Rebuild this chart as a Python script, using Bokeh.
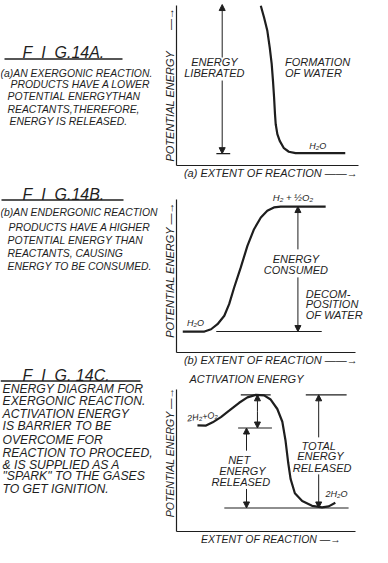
from bokeh.plotting import figure
from bokeh.layouts import row, column
from bokeh.models import Range1d, Arrow, NormalHead, FixedTicker
from bokeh.core.properties import value
from bokeh.embed import file_html
from bokeh.resources import INLINE

INK = "#1e1e1e"
FONT = "Liberation Sans"

# ---------------- data (extent of reaction 0..10, potential energy 0..10) ----------------
# Fig 14A: exergonic, formation of water
a_extent = [4.63, 4.81, 4.99, 5.12, 5.23, 5.30, 5.36, 5.41, 5.45, 5.54, 5.67, 5.90, 6.17, 6.54, 9.27]
a_energy = [9.98, 9.25, 8.42, 7.38, 6.33, 5.29, 4.25, 3.21, 2.58, 1.96, 1.54, 1.08, 0.86, 0.77, 0.77]
a_product_level = 0.74
a_top_level = 10.06
a_arrow_x = 2.51

# Fig 14B: endergonic, decomposition of water
b_extent = [0.35, 1.56, 1.93, 2.29, 2.67, 2.94, 3.22, 3.59, 3.96, 4.33, 4.71, 5.07, 5.44, 5.82, 8.33]
b_energy = [1.37, 1.37, 1.52, 1.85, 2.40, 3.16, 4.25, 5.56, 6.97, 8.06, 8.82, 9.26, 9.48, 9.54, 9.54]
b_low_level = 1.37
b_high_level = 9.54
b_arrow_x = 6.78

# Fig 14C: exergonic with activation barrier
c_extent = [1.17, 1.65, 2.02, 2.48, 2.94, 3.50, 3.96, 4.43, 4.89, 5.26, 5.63, 5.91, 6.09, 6.24,
            6.37, 6.61, 7.02, 7.57, 8.13, 8.50, 8.87]
c_energy = [7.48, 7.47, 7.70, 8.07, 8.52, 9.08, 9.46, 9.64, 9.60, 9.31, 8.64, 7.74, 6.40, 4.83,
            3.71, 2.70, 2.15, 1.81, 1.70, 1.77, 2.03]
c_reactant_level = 7.3
c_peak_level = 9.64
c_product_level = 1.66

# captions
fig_titles = ["F\u00a0\u00a0I\u00a0\u00a0G.14A.", "F\u00a0\u00a0I\u00a0\u00a0G.14B.", "F\u00a0\u00a0I\u00a0\u00a0G.\u00a014C."]
cap_a_lines = ["(a)AN EXERGONIC REACTION.", "PRODUCTS HAVE A LOWER", "POTENTIAL ENERGYTHAN",
               "REACTANTS,THEREFORE,", "ENERGY IS RELEASED."]
cap_b_lines = ["(b)AN ENDERGONIC REACTION", "PRODUCTS HAVE A HIGHER", "POTENTIAL ENERGY THAN",
               "REACTANTS, CAUSING", "ENERGY TO BE CONSUMED."]
cap_c_lines = ["ENERGY DIAGRAM FOR", "EXERGONIC REACTION.", "ACTIVATION ENERGY", "IS BARRIER TO BE",
               "OVERCOME FOR", "REACTION TO PROCEED,", "& IS SUPPLIED AS A",
               "\"SPARK\" TO THE GASES", "TO GET IGNITION."]

TXT = dict(text_font=value(FONT), text_font_style="italic", text_color=INK)

# ---------------- left caption column ----------------
cap = figure(width=160, height=547, x_range=Range1d(0, 160), y_range=Range1d(547, 0),
             output_backend="svg", toolbar_location=None, x_axis_type=None, y_axis_type=None,
             min_border=0)
cap.grid.visible = False
cap.outline_line_color = None

cap.text(x=[22, 22, 22], y=[52, 194, 375], text=fig_titles, text_font_size="16px",
         text_baseline="middle", text_align="left", **TXT)
cap.segment(x0=[4, 1, 0], y0=[58.5, 199.5, 380.5], x1=[122, 123, 140], y1=[58.5, 199.5, 380.5],
            line_color=INK, line_width=1.4)
cap.text(x=[0, 10, 7, 7, 9], y=[73, 84, 96, 109, 121], text=cap_a_lines,
         text_font_size="10.4px", text_baseline="middle", text_align="left", **TXT)
cap.text(x=[0, 8, 7, 7, 7], y=[212, 227, 240, 253, 266], text=cap_b_lines,
         text_font_size="10.4px", text_baseline="middle", text_align="left", **TXT)
cap.text(x=[2] * 9, y=[388, 400, 413, 425, 439, 452, 464, 475, 488], text=cap_c_lines,
         text_font_size="12.2px", text_baseline="middle", text_align="left", **TXT)


def chart(height, y_end, x_end, mb_bottom, xlabel, ylabel, lab_size="11px"):
    p = figure(width=212, height=height, x_range=Range1d(0, x_end), y_range=Range1d(0, y_end),
               output_backend="svg", toolbar_location=None,
               min_border_left=15, min_border_right=4, min_border_top=0,
               min_border_bottom=mb_bottom)
    p.grid.visible = False
    p.outline_line_color = None
    for ax in (p.xaxis[0], p.yaxis[0]):
        ax.ticker = FixedTicker(ticks=[])
        ax.major_tick_out = 0
        ax.major_tick_in = 0
        ax.minor_tick_out = 0
        ax.minor_tick_in = 0
        ax.major_label_standoff = 0
        ax.bounds = (0, 10)
        ax.axis_line_color = INK
        ax.axis_line_width = 1.2
        ax.axis_label_text_font = FONT
        ax.axis_label_text_font_style = "italic"
        ax.axis_label_text_font_size = lab_size
        ax.axis_label_text_color = INK
        ax.axis_label_standoff = 1
    p.xaxis[0].axis_label = xlabel
    p.yaxis[0].axis_label = ylabel
    return p


def arrow(p, x, y0, y1):
    p.add_layout(Arrow(end=NormalHead(size=6, fill_color=INK, line_color=INK, line_width=1),
                       x_start=x, y_start=y0, x_end=x, y_end=y1,
                       line_color=INK, line_width=1))


LBL = "11px"
FRAME_W = 212 - 15 - 4

# ---------------- Fig 14A ----------------
pa = chart(184, 165 / 16.0, FRAME_W / 18.3, 19, "(a) EXTENT OF REACTION  \u2014\u2014\u2192",
           "POTENTIAL  ENERGY \u00a0\u00a0\u00a0\u00a0\u00a0 \u2014\u2192")
pa.line(a_extent, a_energy, line_color=INK, line_width=2.2)
arrow(pa, a_arrow_x, 6.75, a_top_level)
arrow(pa, a_arrow_x, 5.31, a_product_level)
pa.segment(x0=[a_arrow_x - 0.32], y0=[a_product_level], x1=[a_arrow_x + 0.44], y1=[a_product_level],
           line_color=INK, line_width=1.2)
pa.text(x=[2.08, 2.08], y=[6.44, 5.81], text=["ENERGY", "LIBERATED"], text_font_size=LBL,
        text_align="center", text_baseline="middle", **TXT)
pa.text(x=[5.96, 5.96], y=[6.44, 5.81], text=["FORMATION", "OF WATER"], text_font_size=LBL,
        text_align="left", text_baseline="middle", **TXT)
pa.text(x=[7.76], y=[1.19], text=["H\u2082O"], text_font_size="9px",
        text_align="center", text_baseline="middle", **TXT)

# ---------------- Fig 14B ----------------
pb = chart(186, 168 / 15.3, FRAME_W / 18.0, 18, "(b) EXTENT OF REACTION  \u2014\u2014\u2192",
           "POTENTIAL  ENERGY \u2014\u2192")
pb.line(b_extent, b_energy, line_color=INK, line_width=2.2)
pb.segment(x0=[2.22], y0=[b_low_level], x1=[8.11], y1=[b_low_level], line_color=INK, line_width=1.1)
arrow(pb, b_arrow_x, 6.74, b_high_level)
arrow(pb, b_arrow_x, 4.91, b_low_level)
pb.text(x=[6.5], y=[10.14], text=["H\u2082 + \u00bdO\u2082"], text_font_size="9.5px",
        text_align="center", text_baseline="middle", **TXT)
pb.text(x=[1.06], y=[1.9], text=["H\u2082O"], text_font_size="9px",
        text_align="center", text_baseline="middle", **TXT)
pb.text(x=[6.67, 6.67], y=[6.09, 5.37], text=["ENERGY", "CONSUMED"], text_font_size=LBL,
        text_align="center", text_baseline="middle", **TXT)
pb.text(x=[7.22, 7.22, 7.22], y=[3.8, 3.14, 2.42], text=["DECOM-", "POSITION", "OF WATER"],
        text_font_size=LBL, text_align="left", text_baseline="middle", **TXT)

# ---------------- Fig 14C ----------------
pc = chart(177, 165 / 14.53, FRAME_W / 18.0, 12, "EXTENT OF REACTION  \u2014\u2192",
           "POTENTIAL  ENERGY \u2014\u2192", lab_size="10.5px")
pc.line(c_extent, c_energy, line_color=INK, line_width=2.2)
pc.segment(x0=[3.59, 7.22, 3.44, 2.67], y0=[c_peak_level, c_peak_level, c_reactant_level, c_product_level],
           x1=[5.26, 9.50, 5.33, 9.61], y1=[c_peak_level, c_peak_level, c_reactant_level, c_product_level],
           line_color=INK, line_width=1.1)
arrow(pc, 4.52, 8.45, c_peak_level)
arrow(pc, 4.52, 8.45, c_reactant_level)
arrow(pc, 3.91, 5.7, c_reactant_level)
arrow(pc, 3.91, 3.0, c_product_level)
arrow(pc, 7.94, 6.64, c_peak_level)
arrow(pc, 7.94, 4.03, c_product_level)
pc.text(x=[0.72], y=[10.74], text=["ACTIVATION  ENERGY"], text_font_size=LBL,
        text_align="left", text_baseline="middle", **TXT)
pc.text(x=[1.45], y=[8.1], text=["2H\u2082+O\u2082"], text_font_size="9px", angle=0.12,
        text_align="center", text_baseline="middle", **TXT)
pc.text(x=[3.5, 3.68, 3.59], y=[5.01, 4.27, 3.49], text=["NET", "ENERGY", "RELEASED"],
        text_font_size=LBL, text_align="center", text_baseline="middle", **TXT)
pc.text(x=[7.94, 8.04, 8.13], y=[6.06, 5.32, 4.5], text=["TOTAL", "ENERGY", "RELEASED"],
        text_font_size=LBL, text_align="center", text_baseline="middle", **TXT)
pc.text(x=[8.94], y=[2.68], text=["2H\u2082O"], text_font_size="9px",
        text_align="center", text_baseline="middle", **TXT)

layout = row(cap, column(pa, pb, pc))
open("out.html", "w").write(file_html(layout, INLINE))
